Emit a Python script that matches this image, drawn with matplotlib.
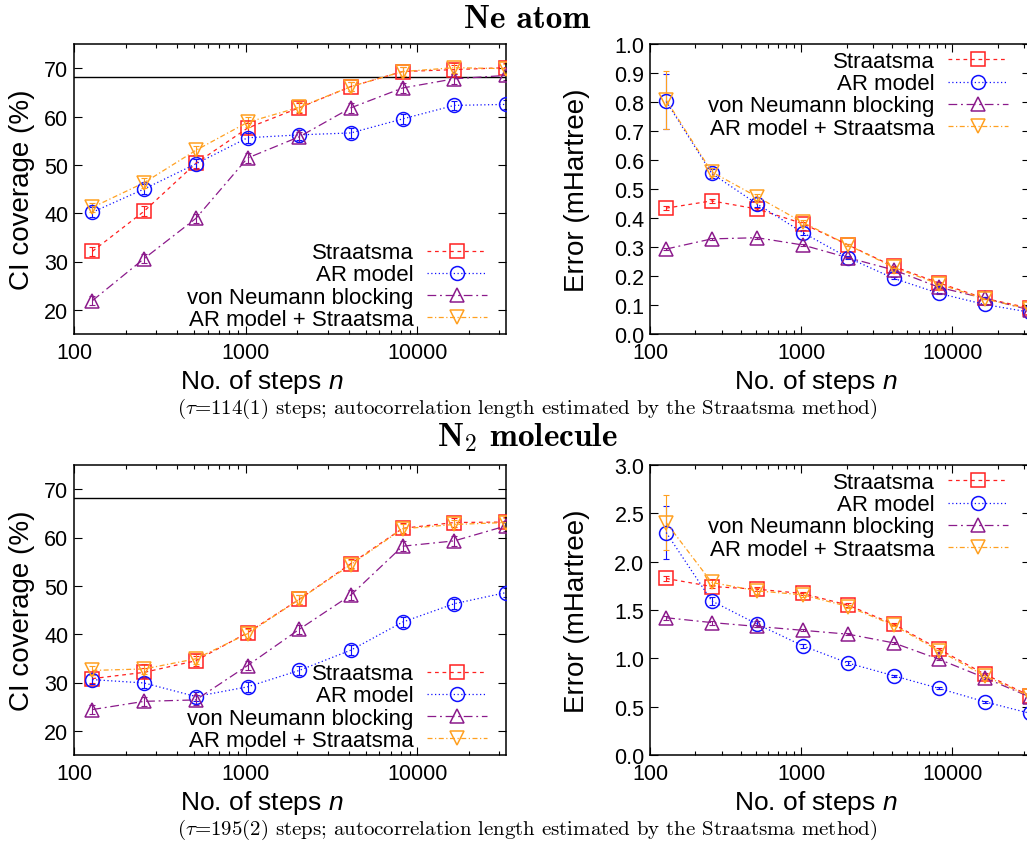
import numpy as np
import matplotlib
matplotlib.use("Agg")
import matplotlib.pyplot as plt
from matplotlib.ticker import FormatStrFormatter, FixedLocator, LogLocator, NullFormatter

plt.rcParams['font.family'] = ['Liberation Sans', 'DejaVu Sans']
plt.rcParams['mathtext.fontset'] = 'custom'
plt.rcParams['mathtext.rm'] = 'Liberation Sans'
plt.rcParams['mathtext.it'] = 'Liberation Sans:italic'
plt.rcParams['mathtext.bf'] = 'Liberation Sans:bold'

# data
steps = [128, 256, 512, 1024, 2048, 4096, 8192, 16384, 32768]
methods = ["Straatsma", "AR model", "von Neumann blocking", "AR model + Straatsma"]

# Ne atom, CI coverage (%)
ne_cov_straatsma = [32.1, 40.4, 50.3, 57.6, 61.8, 66.2, 69.3, 69.7, 70.1]
ne_cov_ar = [40.2, 45.0, 50.2, 55.6, 56.2, 56.6, 59.5, 62.3, 62.5]
ne_cov_vn = [21.9, 30.6, 38.9, 51.4, 55.8, 61.8, 65.9, 67.8, 68.5]
ne_cov_arst = [41.2, 46.3, 53.0, 58.8, 61.9, 66.2, 69.3, 70.1, 69.9]
ne_cov_err = [1.0, 1.0, 1.0, 1.0, 1.0, 1.0, 1.0, 1.0, 1.0]

# Ne atom, error (mHartree)
ne_err_straatsma = [0.434, 0.459, 0.431, 0.381, 0.307, 0.233, 0.176, 0.123, 0.089]
ne_err_ar = [0.802, 0.554, 0.448, 0.350, 0.263, 0.192, 0.140, 0.102, 0.075]
ne_err_vn = [0.293, 0.328, 0.332, 0.307, 0.263, 0.221, 0.161, 0.123, 0.083]
ne_err_arst = [0.807, 0.559, 0.473, 0.385, 0.307, 0.230, 0.172, 0.121, 0.086]
ne_err_e_st = [0.008, 0.007, 0.005, 0.004, 0.003, 0.002, 0.002, 0.001, 0.001]
ne_err_e_ar = [0.095, 0.015, 0.010, 0.008, 0.005, 0.004, 0.003, 0.002, 0.002]
ne_err_e_vn = [0.004, 0.003, 0.003, 0.002, 0.002, 0.002, 0.001, 0.001, 0.001]
ne_err_e_arst = [0.100, 0.015, 0.010, 0.008, 0.005, 0.004, 0.003, 0.002, 0.002]

# N2 molecule, CI coverage (%)
n2_cov_straatsma = [30.8, 32.1, 34.5, 40.3, 47.2, 54.6, 61.9, 63.1, 63.2]
n2_cov_ar = [30.6, 29.9, 27.1, 29.1, 32.5, 36.7, 42.5, 46.3, 48.6]
n2_cov_vn = [24.4, 26.1, 26.4, 33.5, 41.0, 48.1, 58.2, 59.3, 62.4]
n2_cov_arst = [32.5, 32.8, 34.9, 40.1, 47.2, 54.4, 61.8, 62.7, 63.1]
n2_cov_err = [1.0, 1.0, 1.0, 1.0, 1.0, 1.0, 1.0, 1.0, 1.0]

# N2 molecule, error (mHartree)
n2_err_straatsma = [1.826, 1.743, 1.715, 1.671, 1.550, 1.354, 1.095, 0.837, 0.613]
n2_err_ar = [2.301, 1.594, 1.354, 1.130, 0.951, 0.820, 0.689, 0.551, 0.431]
n2_err_vn = [1.42, 1.37, 1.33, 1.29, 1.25, 1.16, 0.99, 0.80, 0.60]
n2_err_arst = [2.405, 1.785, 1.698, 1.657, 1.536, 1.343, 1.078, 0.820, 0.606]
n2_err_e_st = [0.03, 0.02, 0.02, 0.02, 0.02, 0.01, 0.01, 0.01, 0.01]
n2_err_e_ar = [0.27, 0.04, 0.03, 0.02, 0.02, 0.01, 0.01, 0.01, 0.01]
n2_err_e_vn = [0.02, 0.02, 0.01, 0.01, 0.01, 0.01, 0.01, 0.01, 0.01]
n2_err_e_arst = [0.28, 0.04, 0.03, 0.02, 0.02, 0.01, 0.01, 0.01, 0.01]

ci_target = 68.27
xtick_vals = [100, 1000, 10000]
xtick_labels = ["100", "1000", "10000"]
cov_ticks = [20, 30, 40, 50, 60, 70]

titles = ["Ne atom", r"$\mathbf{N}_2$ molecule"]
captions = [r"($\tau$=114(1) steps; autocorrelation length estimated by the Straatsma method)",
            r"($\tau$=195(2) steps; autocorrelation length estimated by the Straatsma method)"]

colors = ["#ff2020", "#1010ff", "#8b1a8b", "#ffa020"]
markers = ["s", "o", "^", "v"]
dashes = [(0, (3, 3)), (0, (1, 2)), (0, (7, 3, 1.5, 3)), (0, (4, 2, 1, 2))]

W, H = 1027, 845
fig = plt.figure(figsize=(W / 100, H / 100), dpi=100)


def box(x0, y0, x1, y1):
    return [x0 / W, 1 - y1 / H, (x1 - x0) / W, (y1 - y0) / H]


def style_axes(ax):
    ax.set_xscale("log")
    ax.set_xlim(100, 32768)
    ax.xaxis.set_major_locator(FixedLocator(xtick_vals))
    ax.set_xticklabels(xtick_labels)
    ax.xaxis.set_minor_locator(LogLocator(base=10, subs=np.arange(2, 10)))
    ax.xaxis.set_minor_formatter(NullFormatter())
    ax.tick_params(which="both", direction="in", top=True, right=True, labelsize=15.5, width=0.8)
    ax.tick_params(which="major", length=6)
    ax.tick_params(which="minor", length=3)
    ax.tick_params(axis="x", pad=6)
    ax.tick_params(axis="y", pad=4)
    for s in ax.spines.values():
        s.set_linewidth(1.1)


def draw(ax, series, errs, legend_anchor):
    for i in range(4):
        ax.errorbar(steps, series[i], yerr=errs[i], fmt="none", ecolor=colors[i],
                    elinewidth=0.8, capsize=2, capthick=0.8, zorder=2)
        ax.plot(steps, series[i], color=colors[i], linestyle=dashes[i], linewidth=0.9,
                marker=markers[i], markersize=10, markerfacecolor="none",
                markeredgewidth=1.1, label=methods[i], zorder=3)
    ax.legend(loc=legend_anchor[0], bbox_to_anchor=legend_anchor[1], frameon=False,
              markerfirst=False, fontsize=16, handlelength=2.7, handletextpad=0.6,
              labelspacing=0.05, borderpad=0, borderaxespad=0)


# top-left: Ne coverage
ax1 = fig.add_axes(box(74, 45, 506, 335))
style_axes(ax1)
ax1.axhline(ci_target, color="black", linewidth=1.0, zorder=1)
draw(ax1, [ne_cov_straatsma, ne_cov_ar, ne_cov_vn, ne_cov_arst], [ne_cov_err] * 4,
     ("lower right", (0.956, 0.015)))
ax1.set_ylim(15, 75)
ax1.set_yticks(cov_ticks)
ax1.set_ylabel("CI coverage (%)", fontsize=20)

# top-right: Ne error
ax2 = fig.add_axes(box(650, 45, 1030, 335))
style_axes(ax2)
draw(ax2, [ne_err_straatsma, ne_err_ar, ne_err_vn, ne_err_arst],
     [ne_err_e_st, ne_err_e_ar, ne_err_e_vn, ne_err_e_arst], ("upper right", (0.942, 0.975)))
ax2.set_ylim(0, 1.0)
ax2.set_yticks(np.arange(0, 1.01, 0.1))
ax2.yaxis.set_major_formatter(FormatStrFormatter("%.1f"))
ax2.set_ylabel("Error (mHartree)", fontsize=20)

# bottom-left: N2 coverage
ax3 = fig.add_axes(box(74, 466, 506, 756))
style_axes(ax3)
ax3.axhline(ci_target, color="black", linewidth=1.0, zorder=1)
draw(ax3, [n2_cov_straatsma, n2_cov_ar, n2_cov_vn, n2_cov_arst], [n2_cov_err] * 4,
     ("lower right", (0.956, 0.015)))
ax3.set_ylim(15, 75)
ax3.set_yticks(cov_ticks)
ax3.set_ylabel("CI coverage (%)", fontsize=20)

# bottom-right: N2 error
ax4 = fig.add_axes(box(650, 466, 1030, 756))
style_axes(ax4)
draw(ax4, [n2_err_straatsma, n2_err_ar, n2_err_vn, n2_err_arst],
     [n2_err_e_st, n2_err_e_ar, n2_err_e_vn, n2_err_e_arst], ("upper right", (0.942, 0.975)))
ax4.set_ylim(0, 3.0)
ax4.set_yticks(np.arange(0, 3.01, 0.5))
ax4.yaxis.set_major_formatter(FormatStrFormatter("%.1f"))
ax4.set_ylabel("Error (mHartree)", fontsize=20)

for ax, lx in [(ax1, -0.12), (ax3, -0.12), (ax2, -0.192), (ax4, -0.192)]:
    ax.set_xlabel(r"No. of steps $n$", fontsize=19)
    ax.xaxis.label.set_va("center")
    ax.xaxis.set_label_coords(0.435, -0.162)
    ax.yaxis.label.set_va("center")
    ax.yaxis.set_label_coords(lx, 0.5)

fig.text(527 / W, 1 - 20 / H, titles[0], family="cmb10", fontsize=24, ha="center", va="center",
         math_fontfamily="cm")
fig.text(527 / W, 1 - 438 / H, titles[1], family="cmb10", fontsize=24, ha="center", va="center",
         math_fontfamily="cm")
fig.text(527 / W, 1 - 409 / H, captions[0], family="cmr10", fontsize=15, ha="center", va="center",
         math_fontfamily="cm")
fig.text(527 / W, 1 - 830 / H, captions[1], family="cmr10", fontsize=15, ha="center", va="center",
         math_fontfamily="cm")

fig.savefig("out.png", dpi=100)
